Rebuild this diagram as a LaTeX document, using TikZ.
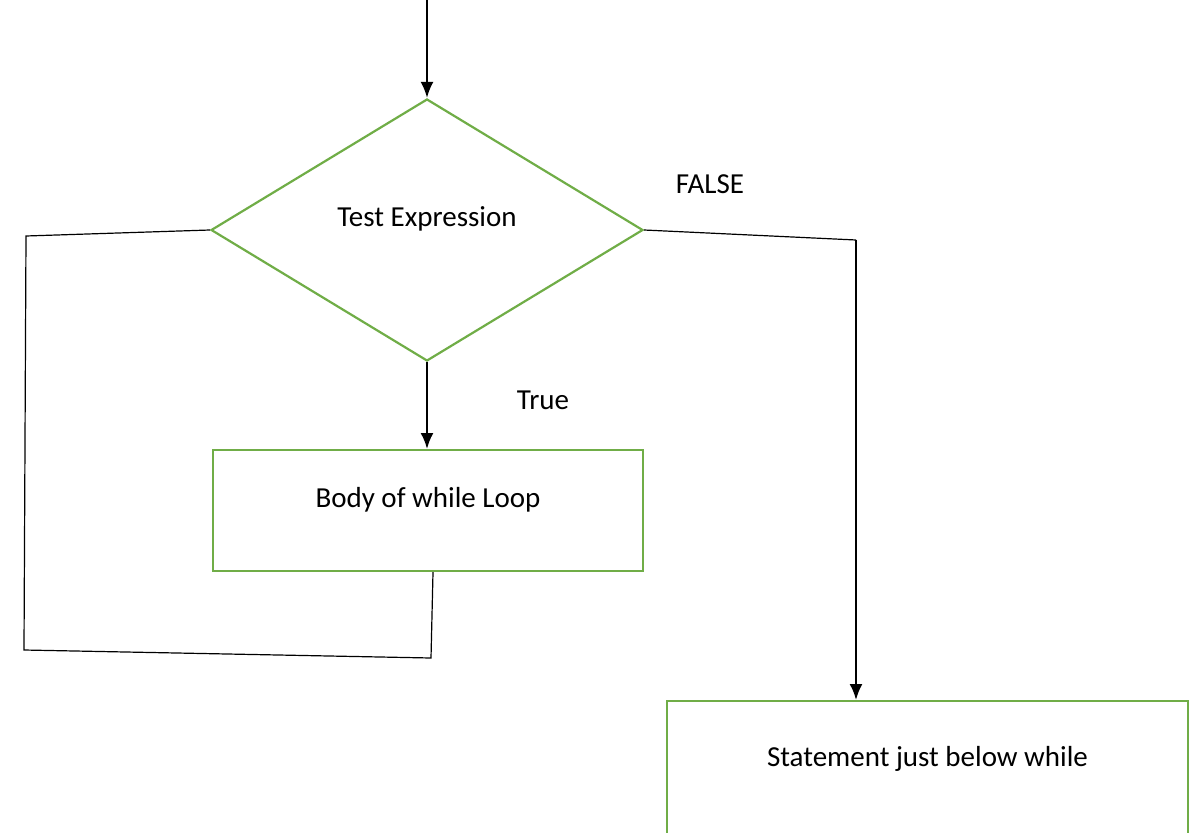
\documentclass[tikz,border=0pt]{standalone}
\usepackage{fontspec}
\setmainfont{Carlito}
\usetikzlibrary{arrows.meta,positioning,calc,shapes.geometric}

\definecolor{boxgreen}{HTML}{70AD47}

\begin{document}
\begin{tikzpicture}[x=1pt, y=-1pt, >={Latex[length=16pt,width=13pt]},
    every node/.style={font=\fontsize{29}{35}\selectfont},
    decision/.style={draw=boxgreen, line width=2.2pt, diamond, inner sep=0pt, minimum width=432pt, minimum height=262pt},
    stepbox/.style={draw=boxgreen, line width=2.2pt, rectangle, inner xsep=0pt, inner ysep=0pt, anchor=north},
    flowarrow/.style={->, line width=2.2pt},
    loopline/.style={line width=1.2pt}]
    \useasboundingbox (0,0) rectangle (1198,832);
    % Entry
    \coordinate (entry) at (427,0);
    \node[decision, text height=20pt, text depth=27pt] (cond) at (427,230) {Test Expression};
    % Loop body
    \node[stepbox, minimum width=430pt, text height=57.5pt, text depth=63.5pt] (body) at (428,449) {Body of while Loop};
    % Exit statement
    \node[stepbox, minimum width=521pt, text height=65.5pt, text depth=74.5pt] (stmt) at (927.5,700) {Statement just below while};
    % Labels
    \node (truelbl) at (543,400) {True};
    \node (falselbl) at (710,184) {FALSE};
    % Corners
    \coordinate (back1) at (431,658);
    \coordinate (back2) at (24,650);
    \coordinate (back3) at (26,236);
    \coordinate (exit1) at (856,240);

    % Arrows
    \draw[flowarrow] (entry) -- (cond.north);
    \draw[flowarrow] (cond.south) -- (cond.south |- body.north);
    \draw[loopline] ([xshift=5pt]body.south) -- (back1) -- (back2) -- (back3) -- (cond.west);
    \draw[loopline] (cond.east) -- (exit1);
    \draw[flowarrow] (exit1) -- (exit1 |- stmt.north);
  \end{tikzpicture}
\end{document}
